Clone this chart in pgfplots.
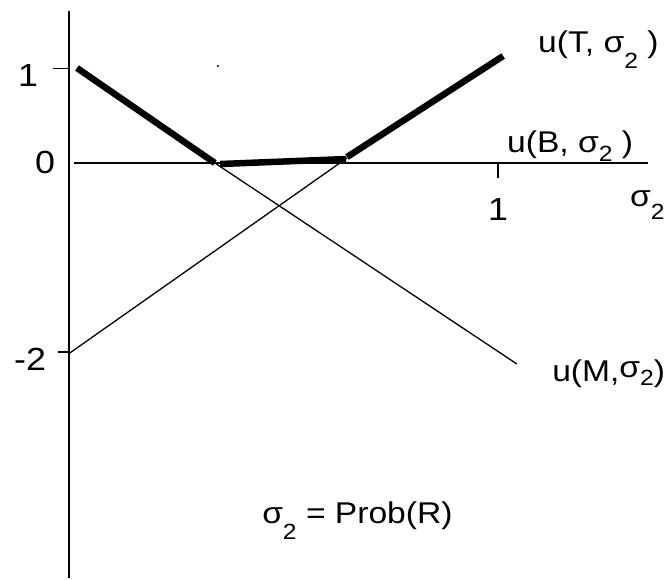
\documentclass[border=0pt]{standalone}
\usepackage{fontspec}
\setmainfont{Liberation Sans}[FakeStretch=1.12]
\usepackage{pgfplots}
\pgfplotsset{compat=1.18}
\newcommand{\sub}[2]{\raisebox{-#1pt}{\fontsize{22}{22}\selectfont #2}}
\begin{document}
\begin{tikzpicture}
\begin{axis}[
  x=429pt, y=94.5pt,
  xmin=-0.16084, xmax=1.3986, ymin=-4.4021, ymax=1.72487,
  hide axis, clip=false,
]
\path (axis description cs:0,0) rectangle (axis description cs:1,1);
% axes
\addplot[black, line width=1.3pt] coordinates {(0,1.608) (0,-4.392)};
\addplot[black, line width=1.3pt] coordinates {(0.0117,0) (1.350,0)};
% ticks
\addplot[black, line width=1.2pt] coordinates {(-0.0373,1) (0,1)};
\addplot[black, line width=1.2pt] coordinates {(-0.0256,-2) (0,-2)};
\addplot[black, line width=1.2pt] coordinates {(1,0) (1,-0.159)};
% thin lines
\addplot[black, line width=1.3pt] coordinates {(0.340,0) (1.044,-2.127)};
\addplot[black, line width=1.3pt] coordinates {(0.002,-2.01) (0.648,0.053)};
% thick upper envelope
\addplot[black, line width=6.5pt] coordinates {(0.0186,1.005) (0.340,0)};
\addplot[black, line width=6.5pt] coordinates {(0.352,-0.011) (0.646,0.042)};
\addplot[black, line width=6.5pt] coordinates {(0.648,0.063) (1.012,1.132)};
% stray dot
\addplot[black, only marks, mark=*, mark size=0.8pt] coordinates {(0.347,1.026)};
% labels
\node[anchor=base west, inner sep=0pt, font=\fontsize{30}{34}\selectfont] at (axis cs:1.0932,1.164) {u(T, σ\sub{16}{2} )};
\node[anchor=base west, inner sep=0pt, font=\fontsize{30}{34}\selectfont] at (axis cs:1.021,0.116) {u(B, σ\sub{9}{2} )};
\node[anchor=base west, inner sep=0pt, font=\fontsize{30}{34}\selectfont] at (axis cs:1.126,-2.307) {u(M,\raisebox{4pt}{σ}\sub{4}{2})};
\node[anchor=base west, inner sep=0pt, font=\fontsize{30}{34}\selectfont] at (axis cs:1.3077,-0.4656) {σ\sub{13}{2}};
\node[anchor=base west, inner sep=0pt, font=\fontsize{30}{34}\selectfont] at (axis cs:0.45,-3.81) {σ\sub{16}{2} = Prob(R)};
% tick labels
\node[anchor=center, inner sep=0pt, font=\fontsize{32}{34}\selectfont] at (axis cs:-0.0956,0.931) {1};
\node[anchor=center, inner sep=0pt, font=\fontsize{32}{34}\selectfont] at (axis cs:-0.056,0.0106) {0};
\node[anchor=center, inner sep=0pt, font=\fontsize{32}{34}\selectfont] at (axis cs:-0.0909,-2.074) {-2};
\node[anchor=center, inner sep=0pt, font=\fontsize{32}{34}\selectfont] at (axis cs:1.0,-0.497) {1};
\end{axis}
\end{tikzpicture}
\end{document}
